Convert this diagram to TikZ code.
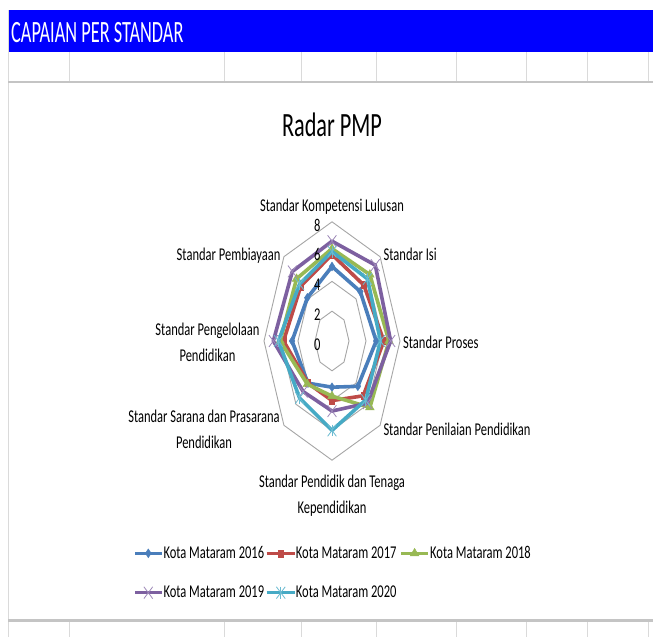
\documentclass[tikz,border=0pt]{standalone}
\usepackage{fontspec}
\usepackage{graphicx}
\setmainfont{Carlito}
\newfontfamily\lblfont{Carlito}[FakeStretch=0.695]
\newfontfamily\ttlfont{Carlito}[FakeStretch=0.655]
\newfontfamily\hdrfont{Carlito}[FakeStretch=0.59]
\usetikzlibrary{shapes.geometric,shapes.misc}
\definecolor{c16}{HTML}{4A7EBB}
\definecolor{c17}{HTML}{BE4B48}
\definecolor{c18}{HTML}{98B954}
\definecolor{c19}{HTML}{7D60A0}
\definecolor{c20}{HTML}{46AAC5}
\definecolor{hdrblue}{HTML}{0000FF}
\definecolor{gridc}{HTML}{DADADA}
\definecolor{thickc}{HTML}{C4C4C4}
\definecolor{ringc}{HTML}{A6A6A6}
\def\rcx{332}
\def\rcy{341}
\def\rux{8.5}
\def\ruy{14.9}
\tikzset{
  lbl/.style={inner sep=0pt, font=\lblfont\fontsize{18}{25.5}\selectfont, text=black},
  vlbl/.style={inner sep=0pt, font=\lblfont\fontsize{18}{18}\selectfont, text=black},
  ring/.style={draw=ringc, line width=0.9pt},
  dataline/.style={line width=3.6pt, line join=round},
  legline/.style={line width=3pt},
  mkA/.style={diamond, fill=c16, draw=c16, inner sep=0pt, minimum width=6pt, minimum height=9pt},
  mkB/.style={rectangle, fill=c17, draw=c17, inner sep=0pt, minimum width=5pt, minimum height=7pt},
  mkC/.style={regular polygon, regular polygon sides=3, fill=c18, draw=c18, inner sep=0pt, minimum size=10pt},
  mkD/.style={cross out, draw=c19!75, line width=0.8pt, inner sep=0pt, minimum width=8pt, minimum height=11pt},
  mkE/.style={cross out, draw=c20!80, line width=0.8pt, inner sep=0pt, minimum width=8pt, minimum height=11pt,
    append after command={(\tikzlastnode.north) edge[draw=c20!80, line width=0.8pt] (\tikzlastnode.south)}},
}
\newcommand\radarseries[4]{%
  \foreach \val [count=\k from 0] in {#4} {
    \coordinate (#1p\k) at ({\rcx+\rux*\val*sin(45*\k)},{\rcy-\ruy*\val*cos(45*\k)});
  }
  \draw[dataline,#2] (#1p0) -- (#1p1) -- (#1p2) -- (#1p3) -- (#1p4) -- (#1p5) -- (#1p6) -- (#1p7) -- cycle;
  \foreach \k in {0,...,7} { \node[#3] (#1m\k) at (#1p\k) {}; }
}
\begin{document}
\begin{tikzpicture}[x=1pt,y=-1pt]
\useasboundingbox (0,0) rectangle (653,637);
\fill[white] (0,0) rectangle (653,637);
% header bar
\fill[hdrblue] (8,10) rectangle (653,52);
\node[anchor=base west, inner sep=0pt, text=white, font=\hdrfont\fontsize{31}{31}\selectfont] (hdr) at (11,42.5) {CAPAIAN PER STANDAR};
% spreadsheet grid
\draw[gridc, line width=0.8pt] (8,10) -- (8,637);
\foreach \gx in {69,224,301,376,456,526,587,648} {
  \draw[gridc, line width=0.9pt] (\gx,52) -- (\gx,81);
  \draw[gridc, line width=0.9pt] (\gx,621) -- (\gx,637);
}
\draw[thickc, line width=2.5pt] (8,82) -- (653,82);
\draw[thickc, line width=2.5pt] (8,620.5) -- (653,620.5);
% title
\node[anchor=base, inner sep=0pt, font=\ttlfont\fontsize{34}{34}\selectfont] (title) at (332,136.7) {Radar PMP};
% rings
\foreach \rr in {2,4,6,8} {
  \draw[ring] plot[samples at={0,45,...,315}] ({\rcx+\rux*\rr*sin(\x)},{\rcy-\ruy*\rr*cos(\x)}) -- cycle;
}
% series
\radarseries{sa}{c16}{mkA}{5.0,4.7,5.2,4.3,3.1,4.0,4.7,4.1}
\radarseries{sb}{c17}{mkB}{5.8,5.3,6.1,5.2,4.0,4.0,5.7,5.2}
\radarseries{sc}{c18}{mkC}{6.2,6.3,6.7,6.3,3.7,4.1,6.1,5.9}
\radarseries{sd}{c19}{mkD}{6.7,7.2,6.9,5.9,4.7,4.8,6.9,6.6}
\radarseries{se}{c20}{mkE}{6.0,5.9,5.7,5.6,6.0,5.4,6.3,5.4}
% value labels
\foreach \rr in {0,2,4,6,8} {
  \node[vlbl, anchor=base] (val\rr) at (317.2,{\rcy-\ruy*\rr+9.3}) {\rr};
}
% category labels
\node[lbl, anchor=base] (kl) at (332,211.7) {Standar Kompetensi Lulusan};
\node[lbl, anchor=base west] (isi) at (383.5,260.7) {Standar Isi};
\node[lbl, anchor=base west] (pro) at (403,348.3) {Standar Proses};
\node[lbl, anchor=base west] (pen) at (383.3,435) {Standar Penilaian Pendidikan};
\node[lbl, anchor=base, align=center] (ptk) at (332,513.3) {Standar Pendidik dan Tenaga\\Kependidikan};
\node[lbl, anchor=base, align=center] (sar) at (204,448.3) {Standar Sarana dan Prasarana\\Pendidikan};
\node[lbl, anchor=base, align=center] (pgl) at (207.5,361) {Standar Pengelolaan\\Pendidikan};
\node[lbl, anchor=base east] (pby) at (280.7,260.7) {Standar Pembiayaan};
% legend
\coordinate (la1) at (135,553.3); \coordinate (lb1) at (161.7,553.3);
\coordinate (la2) at (266.7,553.3); \coordinate (lb2) at (295,553.3);
\coordinate (la3) at (401,553.3); \coordinate (lb3) at (428.3,553.3);
\coordinate (la4) at (135,592.7); \coordinate (lb4) at (161.7,592.7);
\coordinate (la5) at (266.7,592.7); \coordinate (lb5) at (295,592.7);
\draw[legline,c16] (la1) -- (lb1);
\node[mkA] (lm1) at (148.3,553.3) {};
\draw[legline,c17] (la2) -- (lb2);
\node[mkB] (lm2) at (280.8,553.3) {};
\draw[legline,c18] (la3) -- (lb3);
\node[mkC] (lm3) at (414.6,553.3) {};
\draw[legline,c19] (la4) -- (lb4);
\node[mkD] (lm4) at (148.3,592.7) {};
\draw[legline,c20] (la5) -- (lb5);
\node[mkE] (lm5) at (280.8,592.7) {};
\node[lbl, anchor=base west] (lt1) at (163.3,558.3) {Kota Mataram 2016};
\node[lbl, anchor=base west] (lt2) at (295.7,558.3) {Kota Mataram 2017};
\node[lbl, anchor=base west] (lt3) at (430,558.3) {Kota Mataram 2018};
\node[lbl, anchor=base west] (lt4) at (163.3,597.7) {Kota Mataram 2019};
\node[lbl, anchor=base west] (lt5) at (295.7,597.7) {Kota Mataram 2020};
\end{tikzpicture}
\end{document}
